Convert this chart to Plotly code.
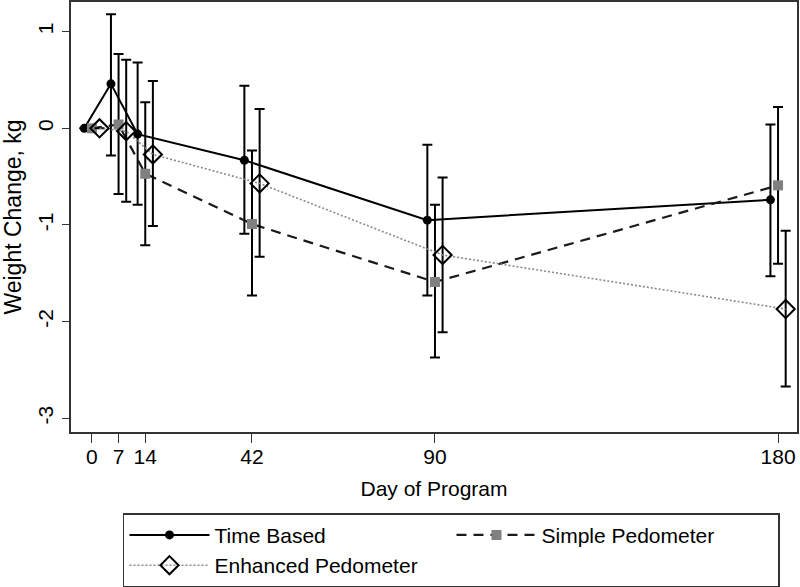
import plotly.graph_objects as go

# ---- data ----
days = [0, 7, 14, 42, 90, 180]

time_mean = [0.0, 0.46, -0.06, -0.33, -0.95, -0.74]
time_upper = [0.0, 1.18, 0.68, 0.44, -0.17, 0.04]
time_lower = [0.0, -0.28, -0.79, -1.09, -1.73, -1.53]

simple_mean = [0.0, 0.04, -0.47, -0.99, -1.59, -0.59]
simple_upper = [0.0, 0.77, 0.27, -0.23, -0.79, 0.22]
simple_lower = [0.0, -0.68, -1.21, -1.73, -2.37, -1.40]

enh_mean = [0.0, -0.03, -0.27, -0.57, -1.31, -1.87]
enh_upper = [0.0, 0.71, 0.49, 0.20, -0.51, -1.06]
enh_lower = [0.0, -0.76, -1.01, -1.33, -2.11, -2.67]

x_ticks = [0, 7, 14, 42, 90, 180]
y_ticks = [-3, -2, -1, 0, 1]

# horizontal dodge (days) so the groups don't overlap
dodge = {"time": -2.0, "simple": 0.0, "enh": 2.0}

FONT = "Liberation Sans, Arial, sans-serif"


def err(mean, upper, lower):
    plus = [u - m for u, m in zip(upper, mean)]
    minus = [m - l for m, l in zip(mean, lower)]
    return dict(type="data", symmetric=False, array=plus, arrayminus=minus,
                color="black", thickness=2, width=5)


fig = go.Figure()

fig.add_trace(go.Scatter(
    x=[d + dodge["time"] for d in days], y=time_mean, name="Time Based",
    mode="lines+markers",
    line=dict(color="black", width=2),
    marker=dict(symbol="circle", size=9, color="black"),
    error_y=err(time_mean, time_upper, time_lower),
))

fig.add_trace(go.Scatter(
    x=[d + dodge["simple"] for d in days], y=simple_mean, name="Simple Pedometer",
    mode="lines+markers",
    line=dict(color="#1a1a1a", width=2.2, dash="10px,7px"),
    marker=dict(symbol="square", size=10, color="#808080"),
    error_y=err(simple_mean, simple_upper, simple_lower),
))

fig.add_trace(go.Scatter(
    x=[d + dodge["enh"] for d in days], y=enh_mean, name="Enhanced Pedometer",
    mode="lines+markers",
    line=dict(color="#8a8a8a", width=1.6, dash="2px,2px"),
    marker=dict(symbol="diamond-open", size=14, color="black",
                line=dict(color="black", width=2)),
    error_y=err(enh_mean, enh_upper, enh_lower),
))

fig.update_layout(
    width=800, height=587,
    paper_bgcolor="white", plot_bgcolor="white",
    margin=dict(l=71, r=3, t=2, b=155, autoexpand=False),
    font=dict(family=FONT, size=21, color="black"),
    showlegend=True,
    legend=dict(
        orientation="h", x=0.0716, xanchor="left", y=-0.189, yanchor="top",
        bordercolor="#333333", borderwidth=1.5, bgcolor="white",
        font=dict(family=FONT, size=21, color="black"),
        entrywidth=232, entrywidthmode="pixels", itemwidth=80,
        traceorder="normal",
    ),
)

fig.update_xaxes(
    range=[-5.48, 184.97], tickvals=x_ticks, ticktext=[str(t) for t in x_ticks],
    showgrid=False, zeroline=False, automargin=False,
    showline=True, linecolor="#333333", linewidth=1.5, mirror=True,
    ticks="outside", ticklen=9, tickcolor="#333333", tickwidth=1,
    ticklabelstandoff=-4,
    title=dict(text="Day of Program", standoff=14, font=dict(size=21)),
    tickfont=dict(size=21),
)
fig.update_yaxes(
    range=[-3.142, 1.307], tickvals=y_ticks, ticktext=[str(t) for t in y_ticks],
    showgrid=False, zeroline=False, automargin=False,
    showline=True, linecolor="#333333", linewidth=1.5, mirror=True,
    ticks="outside", ticklen=7, tickcolor="#333333", tickwidth=1,
    tickangle=-90, ticklabelstandoff=1,
    title=dict(text="Weight Change, kg", font=dict(size=23)),
    tickfont=dict(size=21),
)

fig.write_html("out.html", config={"displayModeBar": False},
               post_script="document.body.style.margin='0';")
